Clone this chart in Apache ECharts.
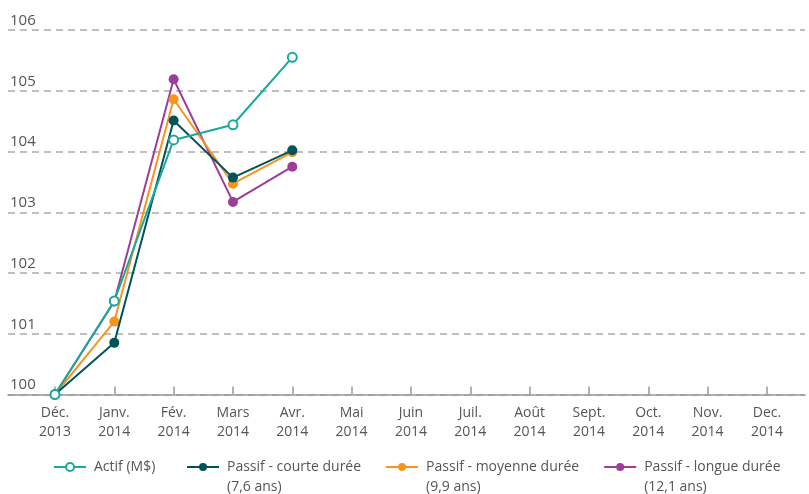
<!DOCTYPE html>
<html>
<head>
<meta charset="utf-8">
<script src="https://cdn.jsdelivr.net/npm/echarts@6/dist/echarts.min.js"></script>
<style>
  html, body { margin: 0; padding: 0; background: #fff; }
  #chart { width: 809px; height: 494px; }
</style>
</head>
<body>
<div id="chart"></div>
<script>
// categories (mois)
var mois = ['Déc.\n2013', 'Janv.\n2014', 'Fév.\n2014', 'Mars\n2014', 'Avr.\n2014', 'Mai\n2014', 'Juin\n2014',
  'Juil.\n2014', 'Août\n2014', 'Sept.\n2014', 'Oct.\n2014', 'Nov.\n2014', 'Dec.\n2014']

// valeurs
var actif = [100, 101.54, 104.19, 104.44, 105.55]
var courte = [100, 100.85, 104.51, 103.57, 104.02]
var moyenne = [100, 101.20, 104.86, 103.47, 103.99]
var longue = [100, 101.53, 105.19, 103.17, 103.75]

var noms = ['Actif (M$)', 'Passif - courte durée\n(7,6 ans)', 'Passif - moyenne durée\n(9,9 ans)', 'Passif - longue durée\n(12,1 ans)']
var couleurs = ['#19a99a', '#00535a', '#f7941d', '#9c3e97']

var police = '"Open Sans", sans-serif'

function serie(i, data, vide) {
  return {
    name: noms[i],
    type: 'line',
    xAxisIndex: 1,
    yAxisIndex: 1,
    data: data,
    z: 10 - i,
    symbol: vide ? 'emptyCircle' : 'circle',
    symbolSize: vide ? 9 : 10,
    lineStyle: { width: 2, color: couleurs[i] },
    itemStyle: { color: couleurs[i], borderWidth: vide ? 2 : 0 },
    emphasis: { disabled: true }
  }
}

var chart = echarts.init(document.getElementById('chart'))

var option = {
  backgroundColor: '#fff',
  animation: false,
  grid: [
    // grille pour les lignes horizontales
    { left: 8, right: 4, top: 30, bottom: 99.5 },
    // grille des données
    { left: 25.3, right: 12.4, top: 30, bottom: 99.5 }
  ],
  legend: {
    left: 48,
    top: 432,
    itemWidth: 32,
    itemHeight: 10,
    itemGap: 24,
    selectedMode: false,
    data: noms,
    // ligne vide devant pour aligner la 1re ligne sur le symbole
    formatter: function (nom) {
      if (nom.indexOf('\n') >= 0) return '\n' + nom
      return '{a|' + nom + '}'
    },
    textStyle: {
      fontFamily: police,
      fontSize: 14,
      color: '#555',
      lineHeight: 20,
      padding: [0, 0, 0, 3],
      rich: {
        a: { width: 68, fontFamily: police, fontSize: 14, color: '#555', lineHeight: 20 }
      }
    }
  },
  xAxis: [
    {
      type: 'category',
      gridIndex: 0,
      data: mois,
      axisLine: { lineStyle: { color: '#999', width: 1.5 } },
      axisTick: { show: false },
      axisLabel: { show: false },
      splitLine: { show: false }
    },
    {
      type: 'category',
      gridIndex: 1,
      data: mois,
      boundaryGap: true,
      axisLine: { show: false },
      axisTick: { show: true, alignWithLabel: true, inside: true, length: 8, lineStyle: { color: '#999', width: 1.5 } },
      axisLabel: { fontFamily: police, fontSize: 14, color: '#555', lineHeight: 19, margin: 9, interval: 0 },
      splitLine: { show: false }
    }
  ],
  yAxis: [
    {
      type: 'value',
      gridIndex: 0,
      min: 100,
      max: 106,
      interval: 1,
      axisLine: { show: false },
      axisTick: { show: false },
      axisLabel: {
        inside: true,
        margin: 2,
        verticalAlign: 'bottom',
        padding: [0, 0, 2, 0],
        fontFamily: police,
        fontSize: 15,
        color: '#555'
      },
      splitLine: { lineStyle: { color: '#aaa', type: [7, 5], width: 1.5 } }
    },
    {
      type: 'value',
      gridIndex: 1,
      min: 100,
      max: 106,
      interval: 1,
      axisLine: { show: false },
      axisTick: { show: false },
      axisLabel: { show: false },
      splitLine: { show: false }
    }
  ],
  series: [
    serie(0, actif, true),
    serie(1, courte, false),
    serie(2, moyenne, false),
    serie(3, longue, false)
  ]
}

chart.setOption(option)
</script>
</body>
</html>
